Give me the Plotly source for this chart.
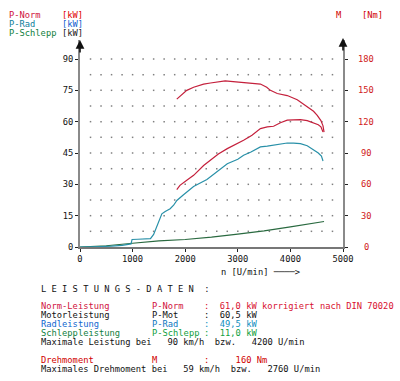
import numpy as np
import plotly.graph_objects as go

# ---------------- data ----------------
norm_rpm = [1840, 1900, 2030, 2160, 2350, 2480, 2630, 2800, 2960, 3110, 3270, 3430, 3560, 3680,
            3810, 3940, 4060, 4190, 4320, 4440, 4530, 4580, 4620]
norm_kw = [27.5, 29.5, 32.0, 34.3, 39.0, 41.5, 44.5, 47.1, 49.0, 51.1, 53.5, 56.7, 57.5, 57.8,
           59.5, 60.7, 60.9, 61.0, 60.5, 59.4, 58.5, 57.5, 55.1]

torque_rpm = [1840, 1900, 1960, 2030, 2160, 2350, 2480, 2640, 2760, 2860, 3000, 3170, 3300, 3430,
              3550, 3620, 3750, 3940, 4130, 4320, 4440, 4510, 4580, 4620, 4640]
torque_nm = [141.6, 144, 147, 150, 153, 156, 157, 158, 159, 158.5, 158, 157, 157, 156,
             153, 150, 147, 145, 141, 134, 130, 126, 121, 116, 110]

rad_rpm = [0, 200, 400, 600, 800, 970, 990, 1100, 1200, 1340, 1400, 1460, 1510, 1556, 1620, 1714,
           1780, 1841, 1968, 2159, 2413, 2600, 2800, 3000, 3110, 3250, 3430, 3560, 3680, 3810,
           3940, 4060, 4190, 4320, 4440, 4530, 4590, 4620]
rad_kw = [0, 0, 0.2, 0.4, 0.8, 1.5, 3.6, 3.7, 3.7, 4.0, 6.0, 10.0, 13.0, 15.9, 17.0, 18.3,
          20.0, 22.3, 25.0, 29.0, 32.3, 36.0, 39.9, 42.0, 43.9, 45.5, 47.9, 48.3, 48.7, 49.3,
          49.8, 49.7, 49.5, 48.5, 46.7, 45.0, 43.5, 41.2]

schlepp_rpm = [0, 500, 1000, 1500, 2000, 2500, 3000, 3500, 4000, 4300, 4640]
schlepp_kw = [0, 0.6, 1.8, 2.9, 3.6, 4.7, 6.2, 7.7, 9.6, 10.7, 12.2]

x_ticks = [0, 1000, 2000, 3000, 4000, 5000]
y_ticks = [0, 15, 30, 45, 60, 75, 90]
y2_ticks = [0, 30, 60, 90, 120, 150, 180]

header_lines = [("P-Norm", "#d0103c", "#e00000"),
                ("P-Rad", "#10809a", "#1060d0"),
                ("P-Schlepp", "#108040", "#202020")]

table_rows = [
    [("Norm-Leistung", "#d0103c"), ("P-Norm", "#d0103c"), (":  61,0 kW korrigiert nach DIN 70020", "#d81030")],
    [("Motorleistung", "#111111"), ("P-Mot", "#111111"), (":  60,5 kW", "#111111")],
    [("Radleistung", "#1068d0"), ("P-Rad", "#1078c0"), (":  49,5 kW", "#1090c0")],
    [("Schleppleistung", "#108040"), ("P-Schlepp", "#10a040"), (":  11,0 kW", "#10a040")],
    [("Maximale Leistung bei   90 km/h  bzw.   4200 U/min", "#111111")],
    None,
    [("Drehmoment", "#d00000"), ("M", "#d00000"), (":     160 Nm", "#d00000")],
    [("Maximales Drehmoment bei   59 km/h  bzw.   2760 U/min", "#111111")],
]

# ---------------- geometry helpers ----------------
W, H = 400, 381
L, R, T, B = 80, 343, 40, 247
FONT = "DejaVu Sans Mono"
FS = 8.75
CW = FS * 0.602  # monospace character width


def px(x):
    return (x - L) / (R - L)


def py(y):
    return (B - y) / (B - T)


def nb(s):
    return s.replace(" ", "\u00a0")


fig = go.Figure()

# dotted grid
gx, gy = np.meshgrid(np.arange(200, 4801, 200), np.arange(7.5, 90.1, 7.5))
fig.add_trace(go.Scatter(x=gx.ravel(), y=gy.ravel(), mode="markers",
                         marker=dict(size=1.5, color="#808080", symbol="square"),
                         hoverinfo="skip", showlegend=False))

fig.add_trace(go.Scatter(x=schlepp_rpm, y=schlepp_kw, mode="lines",
                         line=dict(color="#2a6a40", width=1.2), showlegend=False))
fig.add_trace(go.Scatter(x=rad_rpm, y=rad_kw, mode="lines",
                         line=dict(color="#2890a8", width=1.2), showlegend=False))
fig.add_trace(go.Scatter(x=norm_rpm, y=norm_kw, mode="lines",
                         line=dict(color="#c4203c", width=1.2), showlegend=False))
fig.add_trace(go.Scatter(x=torque_rpm, y=torque_nm, mode="lines", yaxis="y2",
                         line=dict(color="#c4203c", width=1.2), showlegend=False))

ytop = 99.1
fig.update_layout(
    width=W, height=H,
    margin=dict(l=L, r=W - R, t=T, b=H - B),
    paper_bgcolor="white", plot_bgcolor="white",
    font=dict(family=FONT, size=FS, color="#111111"),
    xaxis=dict(range=[0, 5000], tickvals=x_ticks, ticks="outside", ticklen=3,
               tickcolor="#222", showline=True, linecolor="#777", linewidth=1.5,
               showgrid=False, zeroline=False, tickfont=dict(size=FS, color="#111")),
    yaxis=dict(range=[0, ytop], tickvals=y_ticks, ticks="outside", ticklen=3,
               tickcolor="#222", showline=True, linecolor="#8a8a8a", linewidth=2,
               showgrid=False, zeroline=False, tickfont=dict(size=FS, color="#111")),
    yaxis2=dict(range=[0, ytop * 2], tickvals=y2_ticks, ticks="outside", ticklen=3,
                tickcolor="#222", showline=True, linecolor="#8a8a8a", linewidth=2,
                showgrid=False, zeroline=False, showticklabels=False,
                overlaying="y", side="right"),
    hovermode=False,
)

ann = []


def text(x, y, s, color="#111111", anchor="left"):
    ann.append(dict(x=px(x), y=py(y), xref="paper", yref="paper", text=nb(s),
                    showarrow=False, xanchor=anchor, yanchor="middle",
                    borderpad=0, font=dict(family=FONT, size=FS, color=color)))


# header legend
for i, (name, c1, c2) in enumerate(header_lines):
    text(8, 15 + 9 * i, name, c1)
    text(8 + 10 * CW, 15 + 9 * i, "[kW]", c2)
text(335, 15, "M", "#d00000")
text(335 + 5 * CW, 15, "[Nm]", "#d00000")

# right axis labels
for v in y2_ticks:
    text(366, B - v / 2 * (B - T) / ytop, str(v), "#d02020", anchor="center")

# axis arrows
for xp in (0, 1):
    ann.append(dict(x=xp, y=1.0 if xp == 0 else 1.01, xref="paper", yref="paper", text="",
                    showarrow=True, ax=0, ay=14, arrowhead=2, arrowsize=1.1,
                    arrowwidth=1.6, arrowcolor="#111"))

# x axis title
text(220, 272, "n [U/min] ────>")

# data table
text(40, 289, "L E I S T U N G S - D A T E N  :")
y0 = 306.3
cols = [0, 21, 31]
for i, row in enumerate(table_rows):
    if row is None:
        continue
    for j, (s, c) in enumerate(row):
        text(40 + cols[j] * CW, y0 + 9.0 * i, s, c)

fig.update_layout(annotations=ann)
fig.write_html("out.html", config={"displayModeBar": False},
               post_script="document.body.style.margin='0';document.body.style.overflow='hidden';")
